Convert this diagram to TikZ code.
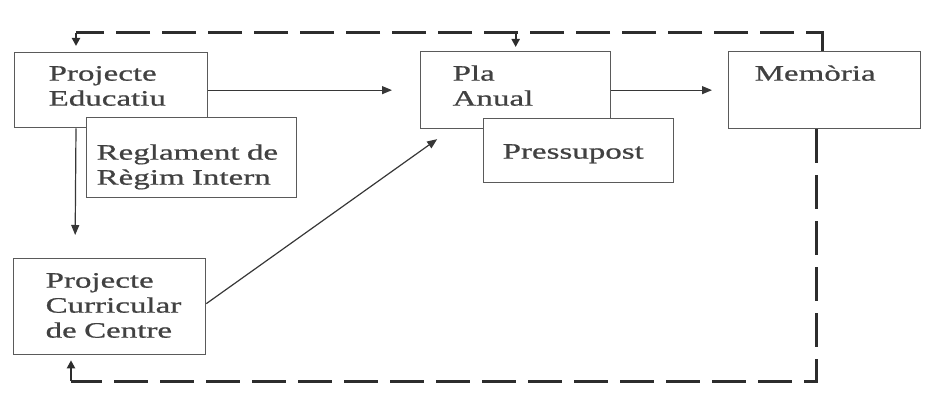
\documentclass[tikz,border=0pt]{standalone}
\usepackage{fontspec}
\usepackage{tikz}
\usetikzlibrary{arrows.meta, calc}
\newfontfamily\boxfont{Liberation Serif}[FakeStretch=1.5, FakeBold=0.8]
\definecolor{linegray}{RGB}{55, 55, 55}
\definecolor{boxgray}{RGB}{90, 90, 90}
\definecolor{txtgray}{RGB}{65, 65, 65}
\definecolor{dashgray}{RGB}{45, 45, 45}

\tikzset{
  box/.style={draw=boxgray, line width=1.3pt, fill=white, anchor=north west,
    align=left, inner sep=0pt, text=txtgray,
    font=\boxfont\fontsize{22}{25}\selectfont},
  txtindent/.style={execute at begin node={\leftskip=#1\relax}},
  arr/.style={draw=linegray, line width=1.2pt, -{Triangle[length=10pt,width=8pt]}},
  loopline/.style={draw=dashgray, line width=3pt, dash pattern=on 34pt off 12pt},
  stub/.style={draw=dashgray, line width=2pt, -{Triangle[length=8pt,width=8pt]}}
}

\begin{document}
\begin{tikzpicture}[x=1pt, y=-1pt]
  \useasboundingbox (0,0) rectangle (946,401);

  % caixes
  \node[box, text width=193pt, text height=28pt, text depth=47pt, txtindent=34pt]
    (pe) at (14,52) {Projecte\\Educatiu};
  \node[box, text width=210pt, text height=42pt, text depth=38pt, txtindent=10pt]
    (rri) at (86,117) {Reglament de\\Règim Intern};
  \node[box, text width=192pt, text height=29pt, text depth=67pt, txtindent=32pt]
    (pcc) at (13,258) {Projecte\\Curricular\\de Centre};
  \node[box, text width=190pt, text height=29pt, text depth=48pt, txtindent=32pt]
    (pa) at (420,51) {Pla\\Anual};
  \node[box, text width=190pt, text height=40pt, text depth=24pt, txtindent=19pt]
    (pp) at (483,118) {Pressupost};
  \node[box, text width=192pt, text height=29pt, text depth=48pt, txtindent=26pt]
    (mem) at (728,51) {Memòria};

  % fletxes
  \draw[arr, shorten >=28pt] (pe.east) -- (pe.east -| pa.west);
  \draw[arr, shorten >=16pt] (pa.east) -- (mem.west);
  \draw[arr, shorten >=23pt] ([xshift=62pt]pe.south west) -- ([xshift=62pt]pcc.north west);
  \draw[arr, shorten >=17pt] ([yshift=3pt]pcc.east) -- ([xshift=31pt]pa.south west);

  % retorn (discontinu)
  \coordinate (topL) at (76,33);
  \coordinate (botL) at (71,381);
  \draw[loopline] ([xshift=94pt]mem.north west) |- (topL);
  \draw[loopline] ([xshift=88pt]mem.south west) |- (botL);
  \draw[stub, shorten >=6pt] (topL) -- (topL |- pe.north);
  \draw[stub, shorten >=4pt] (pa.north |- topL) -- (pa.north);
  \draw[stub, shorten >=5pt] (botL) -- (botL |- pcc.south);
\end{tikzpicture}
\end{document}
